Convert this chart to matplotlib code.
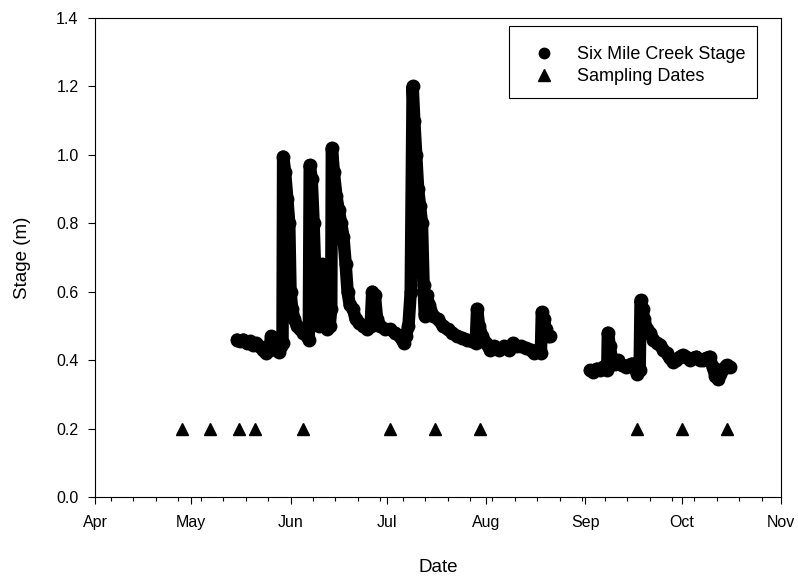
import pandas as pd
import matplotlib
matplotlib.use('Agg')
import matplotlib.pyplot as plt
import matplotlib.dates as mdates
from matplotlib.patches import Rectangle

plt.rcParams['font.family'] = ['Liberation Sans', 'DejaVu Sans']

# Datas de referência (dias a partir de 1 de abril)
inicio = pd.Timestamp('2014-04-01')

# Nível do Six Mile Creek - primeiro trecho (maio a agosto)
dias_verao = [44.3, 45.3, 46.3, 47.3, 48.3, 49.3, 50.3, 51.3, 52.3, 53.3, 54.3, 55.0, 55.8, 56.6,
              57.4, 58.0, 58.5, 58.7, 59.3, 60.0, 60.6, 61.0, 61.5, 62.2, 63.0, 64.0, 65.0, 66.0,
              66.7, 67.0, 67.6, 68.2, 68.8, 69.4, 70.0, 70.5, 70.8, 71.5, 72.0, 72.5, 73.2, 73.7,
              73.9, 74.5, 75.3, 76.0, 76.8, 77.5, 78.2, 78.8, 79.5, 80.5, 81.3, 82.3, 83.5, 85.0,
              86.0, 86.5, 87.3, 88.0, 89.0, 90.5, 92.0, 93.5, 95.0, 96.3, 97.0, 97.8, 98.5, 99.1,
              99.6, 100.2, 100.8, 101.4, 102.0, 102.5, 102.9, 103.5, 104.3, 105.5, 107.0, 108.5,
              110.0, 111.5, 113.0, 114.5, 116.0, 117.5, 118.8, 119.2, 119.8, 120.8, 122.0, 123.2,
              124.5, 126.0, 127.5, 129.0, 130.4, 131.5, 133.0, 134.5, 136.0, 137.0, 138.2, 139.1,
              139.4, 140.0, 140.6, 141.3, 141.9]
nivel_verao = [0.46, 0.455, 0.46, 0.45, 0.455, 0.445, 0.45, 0.44, 0.43, 0.42, 0.43, 0.47, 0.44, 0.43,
               0.425, 0.44, 0.45, 0.995, 0.95, 0.87, 0.80, 0.60, 0.55, 0.52, 0.50, 0.49, 0.48, 0.47,
               0.46, 0.97, 0.93, 0.80, 0.62, 0.52, 0.50, 0.55, 0.68, 0.66, 0.56, 0.49, 0.50, 0.55,
               1.02, 0.95, 0.88, 0.84, 0.80, 0.76, 0.68, 0.60, 0.56, 0.55, 0.52, 0.51, 0.50, 0.49,
               0.50, 0.60, 0.59, 0.52, 0.50, 0.49, 0.49, 0.48, 0.47, 0.45, 0.47, 0.50, 0.60, 1.20,
               1.10, 1.00, 0.90, 0.85, 0.80, 0.62, 0.53, 0.59, 0.56, 0.53, 0.52, 0.50,
               0.49, 0.48, 0.47, 0.465, 0.46, 0.455, 0.45, 0.55, 0.50, 0.47, 0.45, 0.43,
               0.44, 0.43, 0.44, 0.43, 0.45, 0.44, 0.44, 0.435, 0.43, 0.42, 0.43, 0.42,
               0.54, 0.52, 0.49, 0.47, 0.47]

# Segundo trecho (setembro a outubro)
dias_outono = [154.4, 155.5, 156.5, 157.5, 158.5, 159.3, 159.8, 160.0, 160.6, 161.3, 162.3, 163.3,
               164.3, 165.5, 166.5, 167.5, 168.5, 169.2, 169.9, 170.2, 170.8, 171.3, 172.2, 173.2,
               174.2, 175.2, 176.2, 177.3, 178.3, 179.3, 180.3, 181.3, 182.4, 183.4, 184.4, 185.5,
               186.5, 187.6, 188.6, 189.6, 190.7, 191.7, 192.7, 193.5, 194.2, 195.0, 196.0, 197.0,
               198.0]
nivel_outono = [0.37, 0.365, 0.375, 0.37, 0.38, 0.375, 0.37, 0.48, 0.44, 0.40, 0.39, 0.40,
                0.385, 0.38, 0.385, 0.39, 0.375, 0.36, 0.37, 0.575, 0.55, 0.52, 0.49, 0.48,
                0.46, 0.45, 0.445, 0.43, 0.42, 0.405, 0.395, 0.40, 0.41, 0.415, 0.41, 0.40,
                0.405, 0.41, 0.40, 0.40, 0.405, 0.41, 0.38, 0.355, 0.345, 0.36, 0.375, 0.385,
                0.38]

# Datas de amostragem
datas_amostragem = ['2014-04-28', '2014-05-07', '2014-05-16', '2014-05-21', '2014-06-05',
                    '2014-07-02', '2014-07-16', '2014-07-30', '2014-09-17', '2014-10-01',
                    '2014-10-15']
nivel_amostragem = [0.2] * len(datas_amostragem)

t_verao = inicio + pd.to_timedelta(dias_verao, unit='D')
t_outono = inicio + pd.to_timedelta(dias_outono, unit='D')
t_amostra = pd.to_datetime(datas_amostragem)

fig = plt.figure(figsize=(7.98, 5.79), dpi=100)
ax = fig.add_axes([0.119, 0.1416, 0.8597, 0.8273])

for t, v in [(t_verao, nivel_verao), (t_outono, nivel_outono)]:
    ax.plot(t, v, '-', color='black', lw=9, solid_capstyle='round', solid_joinstyle='round')
    ax.plot(t, v, 'o', color='black', ms=9)

# handles da legenda
ax.plot([], [], 'o', color='black', ms=7.5, label='Six Mile Creek Stage')
ax.plot(t_amostra, nivel_amostragem, '^', color='black', ms=8.5, ls='none', label='Sampling Dates')

ax.set_xlim(pd.Timestamp('2014-04-01'), pd.Timestamp('2014-11-01'))
ax.set_ylim(0, 1.4)
ax.set_yticks([0.0, 0.2, 0.4, 0.6, 0.8, 1.0, 1.2, 1.4])
ax.yaxis.set_major_formatter(plt.FormatStrFormatter('%.1f'))
ax.xaxis.set_major_locator(mdates.MonthLocator())
ax.xaxis.set_major_formatter(mdates.DateFormatter('%b'))
ax.xaxis.set_minor_locator(mdates.WeekdayLocator(byweekday=mdates.SU))

ax.tick_params(which='major', direction='out', length=4.8, width=0.8, labelsize=11.5)
ax.tick_params(which='minor', direction='out', length=2.9, width=0.8)
ax.tick_params(axis='x', pad=8)
ax.tick_params(axis='y', pad=7)
for s in ax.spines.values():
    s.set_linewidth(0.8)

ax.set_xlabel('Date', fontsize=13.5, labelpad=21)
ax.set_ylabel('Stage (m)', fontsize=13.5, labelpad=18)

# moldura da legenda
ax.add_patch(Rectangle((0.6035, 0.833), 0.3615, 0.1503, transform=ax.transAxes,
                       facecolor='white', edgecolor='black', lw=0.8, zorder=4))
leg = ax.legend(loc='upper left', bbox_to_anchor=(0.6035, 0.983), frameon=False,
                fontsize=13, borderpad=1.1, handlelength=1.68, handletextpad=0.99,
                labelspacing=0.27, borderaxespad=0)
leg.set_zorder(5)

plt.savefig('out.png', dpi=100)
